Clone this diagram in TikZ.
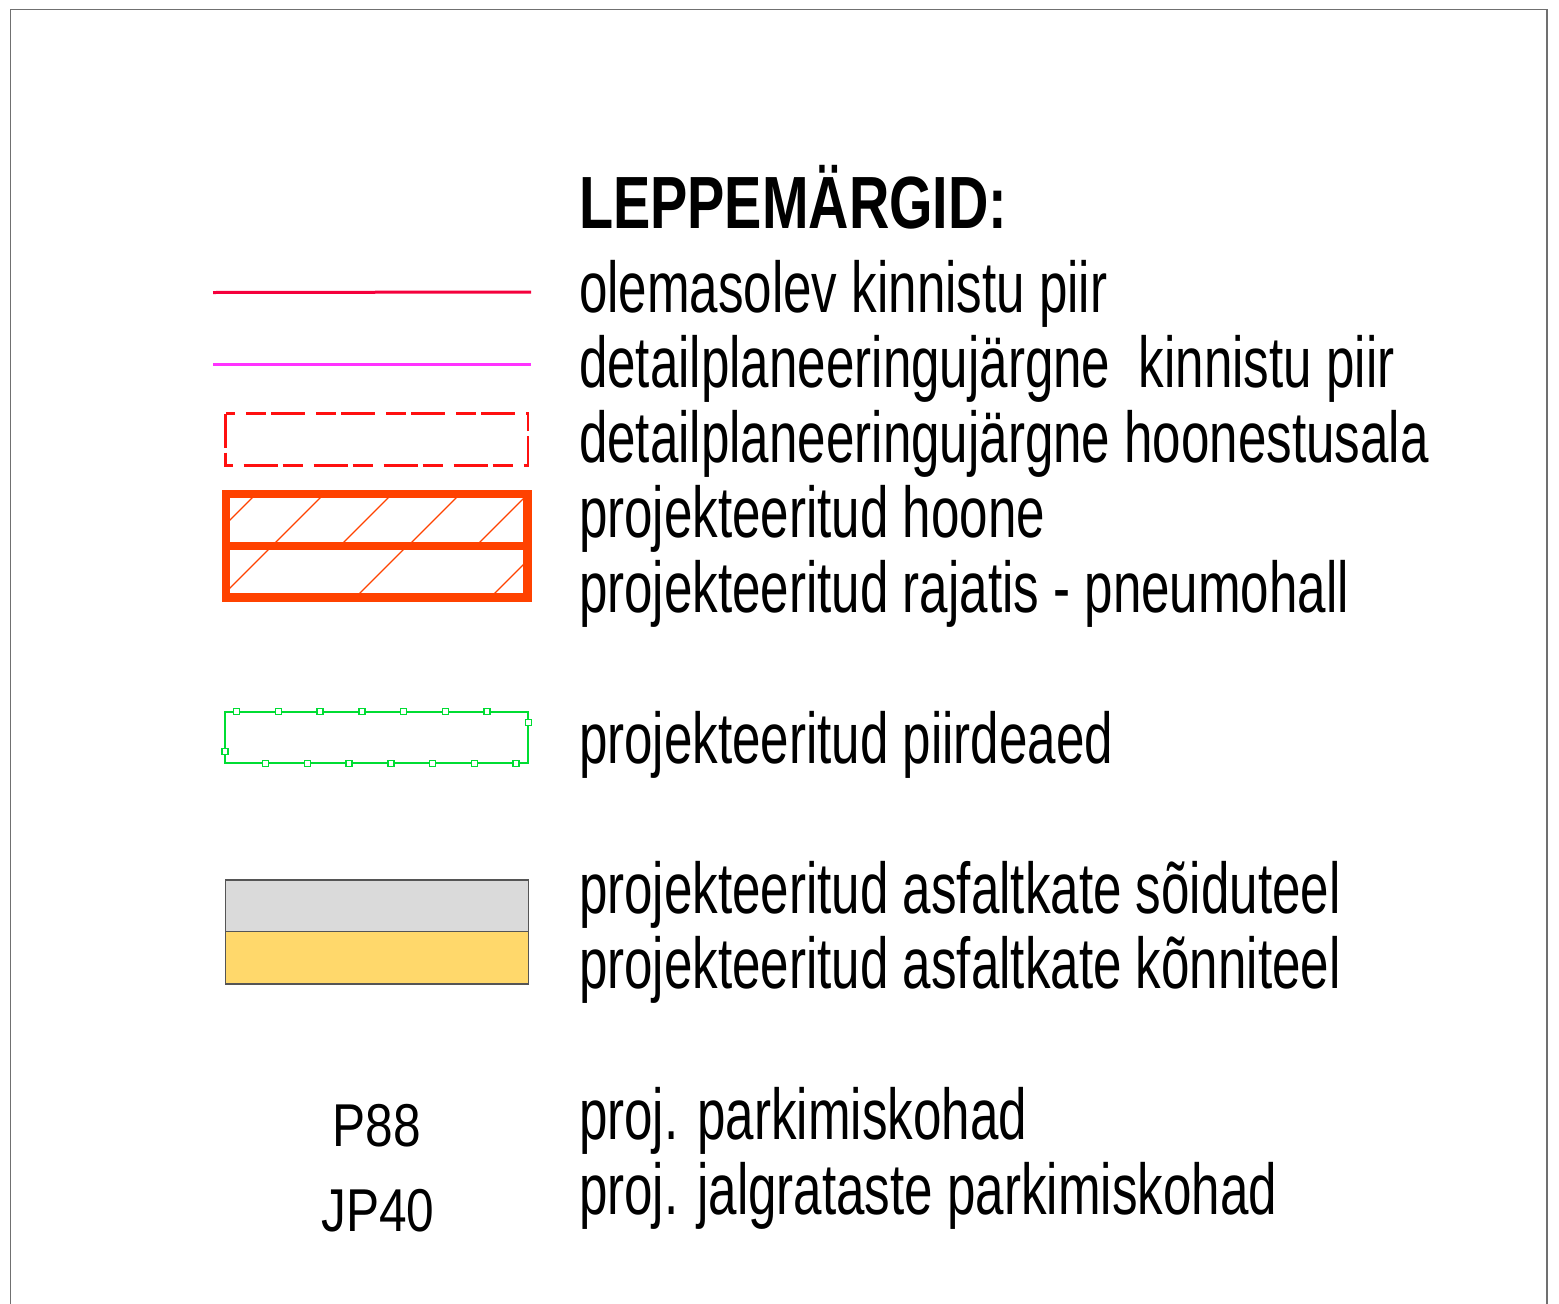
\documentclass[tikz,border=0pt]{standalone}
\usepackage{fontspec}
\setmainfont{Liberation Sans}
\newfontfamily\condfont[FakeStretch=0.71]{Liberation Sans}
\newfontfamily\condbfont[FakeStretch=0.755]{Liberation Sans}
\newfontfamily\labfont[FakeStretch=0.82]{Liberation Sans}
\definecolor{frame}{HTML}{707070}
\definecolor{redline}{HTML}{F5003C}
\definecolor{magline}{HTML}{FF33FF}
\definecolor{dashred}{HTML}{FF1010}
\definecolor{bldg}{HTML}{FF4200}
\definecolor{fence}{HTML}{00DD33}
\definecolor{roadgray}{HTML}{DADADA}
\definecolor{walkyellow}{HTML}{FFD86B}
\definecolor{edgegray}{HTML}{555555}
\tikzset{
  legtext/.style={anchor=base west,inner sep=0pt,outer sep=0pt,font=\condfont\fontsize{72}{86}\selectfont},
  titletext/.style={anchor=base west,inner sep=0pt,outer sep=0pt,font=\condbfont\bfseries\fontsize{74}{88}\selectfont},
  codetext/.style={anchor=base,inner sep=0pt,outer sep=0pt,font=\labfont\fontsize{60.5}{72}\selectfont},
  hatchline/.style={bldg,line width=1.1pt},
  bldgedge/.style={bldg,line width=8.5pt},
  fencepost/.style={fence,line width=1.4pt,fill=white},
}
\begin{document}
\begin{tikzpicture}[x=1pt,y=-1pt]
\useasboundingbox (0,0) rectangle (1559,1304);
% frame
\draw[frame,line width=1.6pt] (10.5,1312) -- (10.5,9.5) -- (1547,9.5) -- (1547,1312);

% title and legend texts
\node[titletext] (title) at (579,228) {LEPPEMÄRGID:};
\node[legtext] (t1) at (579,312) {olemasolev kinnistu piir};
\node[legtext] (t2) at (579,387) {detailplaneeringujärgne~ kinnistu piir};
\node[legtext] (t3) at (579,462) {detailplaneeringujärgne hoonestusala};
\node[legtext] (t4) at (579,537) {projekteeritud hoone};
\node[legtext] (t5) at (579,612) {projekteeritud rajatis - pneumohall};
\node[legtext] (t6) at (579,763) {projekteeritud piirdeaed};
\node[legtext] (t7) at (579,913) {projekteeritud asfaltkate sõiduteel};
\node[legtext] (t8) at (579,988) {projekteeritud asfaltkate kõnniteel};
\node[legtext] (t9) at (579,1139) {proj. parkimiskohad};
\node[legtext] (t10) at (579,1214) {proj. jalgrataste parkimiskohad};

% existing property boundary
\draw[redline,line width=3pt] (213,292.5) -- (531,292);
% planned property boundary
\draw[magline,line width=2.2pt] (213,364.5) -- (531,364.5);

% building area (dashed)
\draw[dashred,line width=2.6pt,dash pattern=on 34pt off 5pt on 20pt off 11pt]
  (225.5,413.5) rectangle (528,465.5);

% planned building / pneumohall
\begin{scope}
  \clip (226,494) rectangle (527.5,546);
  \foreach \c in {750,818,886,954,1022}
    \draw[hatchline] ({\c-440},440) -- ({\c-600},600);
\end{scope}
\begin{scope}
  \clip (226,546) rectangle (527.5,597.5);
  \foreach \c in {818,953,1088}
    \draw[hatchline] ({\c-440},440) -- ({\c-650},650);
\end{scope}
\draw[bldgedge] (226,494) rectangle (527.5,597.5);
\draw[bldgedge] (222,546) -- (531.5,546);

% fence
\draw[fence,line width=2pt] (225,711.7) rectangle (528.3,763.3);
\foreach \xx in {236.7,278.4,320.1,361.8,403.5,445.2,486.9}
  \draw[fencepost] (\xx-3,708.7) rectangle (\xx+3,714.7);
\foreach \xx in {265.7,307.4,349.1,390.8,432.5,474.2,515.9}
  \draw[fencepost] (\xx-3,760.3) rectangle (\xx+3,766.3);
\draw[fencepost] (222,748.7) rectangle (228,754.7);
\draw[fencepost] (525.3,719.7) rectangle (531.3,725.7);

% asphalt
\draw[edgegray,line width=1.2pt,fill=roadgray] (225.7,880) rectangle (528.3,931.7);
\draw[edgegray,line width=1.2pt,fill=walkyellow] (225.7,931.7) rectangle (528.3,984);

% parking codes
\node[codetext] (p88) at (377,1146.7) {P88};
\node[codetext] (jp40) at (378,1231.7) {JP40};
\end{tikzpicture}
\end{document}
